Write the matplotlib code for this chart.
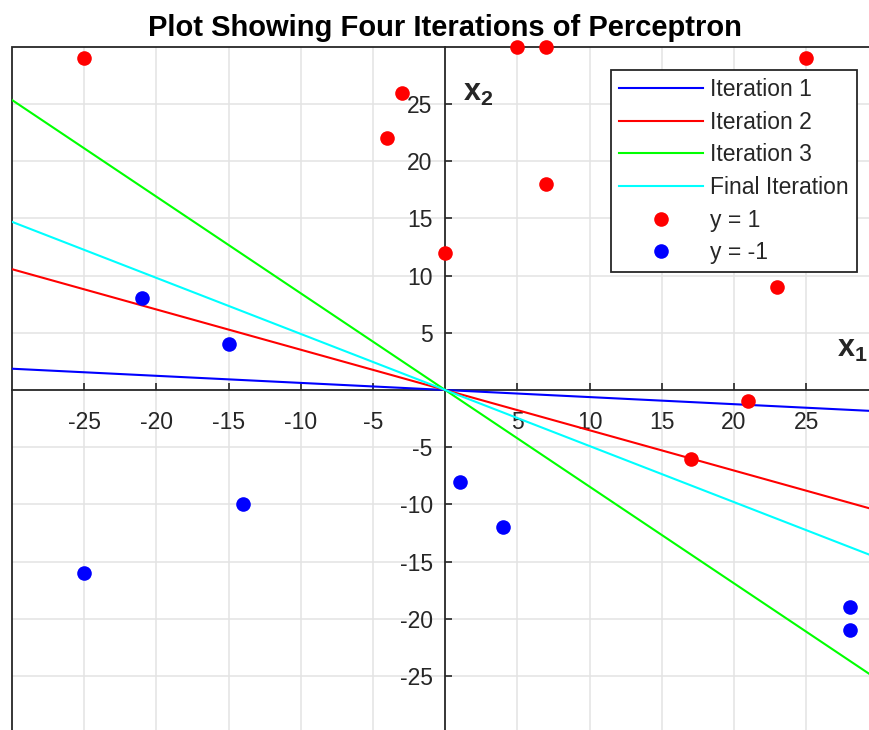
import numpy as np
import matplotlib
matplotlib.use("Agg")
import matplotlib.pyplot as plt
from matplotlib.patches import Rectangle

plt.rcParams['font.family'] = ['Liberation Sans', 'DejaVu Sans']
plt.rcParams['mathtext.fontset'] = 'custom'
plt.rcParams['mathtext.rm'] = 'Liberation Sans'
plt.rcParams['mathtext.bf'] = 'Liberation Sans:bold'
plt.rcParams['axes.unicode_minus'] = False

# ---- data ----
pos_x1 = [-25, -3, -4, 5, 7, 25, 7, 0, 23, 21, 17]
pos_x2 = [29, 26, 22, 30, 30, 29, 18, 12, 9, -1, -6]
neg_x1 = [-21, -15, -14, -25, 1, 4, 28, 28]
neg_x2 = [8, 4, -10, -16, -8, -12, -19, -21]

iter_labels = ["Iteration 1", "Iteration 2", "Iteration 3", "Final Iteration"]
iter_slopes = [-0.062, -0.352, -0.845, -0.49]   # decision boundary x2 = slope * x1
iter_colors = ["#0000ff", "#ff0000", "#00ff00", "#00ffff"]

xticks = [-25, -20, -15, -10, -5, 5, 10, 15, 20, 25]
yticks = [-25, -20, -15, -10, -5, 5, 10, 15, 20, 25]
xlim = (-30, 30)
ylim = (-30, 30)

W, H = 869, 730
fig = plt.figure(figsize=(W / 100, H / 100), dpi=100)
ax = fig.add_axes([12 / W, (730 - 733.2) / H, 866.4 / W, 686.4 / H])

dark = "#262626"
ax.set_xlim(*xlim)
ax.set_ylim(*ylim)

xs = np.array(xlim, dtype=float)
for lab, s, c in zip(iter_labels, iter_slopes, iter_colors):
    ax.plot(xs, s * xs, color=c, lw=1.5, label=lab, zorder=3)

ax.plot(pos_x1, pos_x2, 'o', color="#ff0000", ms=10.5, mec='none', label="y = 1",
        zorder=4, clip_on=False)
ax.plot(neg_x1, neg_x2, 'o', color="#0000ff", ms=10.5, mec='none', label="y = -1",
        zorder=4, clip_on=False)

ax.set_xticks(xticks)
ax.set_yticks(yticks)
ax.grid(True, color="#e3e3e3", lw=1.1, zorder=0)
ax.set_axisbelow(True)

ax.spines['left'].set_position(('data', 0))
ax.spines['bottom'].set_position(('data', 0))
for sp in ['left', 'bottom']:
    ax.spines[sp].set_color(dark)
    ax.spines[sp].set_linewidth(1.3)
    ax.spines[sp].set_zorder(2)
ax.spines['top'].set_visible(False)
ax.spines['right'].set_visible(False)
ax.add_patch(Rectangle((0, 0), 1, 1, transform=ax.transAxes, fill=False,
                       ec=dark, lw=1.3, zorder=2, clip_on=False))

ax.tick_params(axis='both', direction='in', length=5, width=1.2, color=dark,
               labelcolor=dark, labelsize=16.5)
ax.tick_params(axis='x', pad=15)
ax.tick_params(axis='y', pad=9)

ax.text(2.3, 26.0, r'$\mathbf{x_2}$', fontsize=22, color=dark, ha='center', va='center')
ax.text(28.2, 3.6, r'$\mathbf{x_1}$', fontsize=22, color=dark, ha='center', va='center')

ax.set_title("Plot Showing Four Iterations of Perceptron", fontsize=21,
             fontweight='bold', pad=8, color='black')

leg = ax.legend(loc='upper right', bbox_to_anchor=(857 / W, 1 - 70 / H),
                bbox_transform=fig.transFigure, fontsize=16.5, frameon=True,
                fancybox=False, framealpha=1, edgecolor=dark, borderaxespad=0,
                handlelength=3.7, handletextpad=0.3, labelspacing=0.42,
                borderpad=0.35)
leg.get_frame().set_linewidth(1.3)
for t in leg.get_texts():
    t.set_color(dark)

fig.savefig("out.png", dpi=100)
